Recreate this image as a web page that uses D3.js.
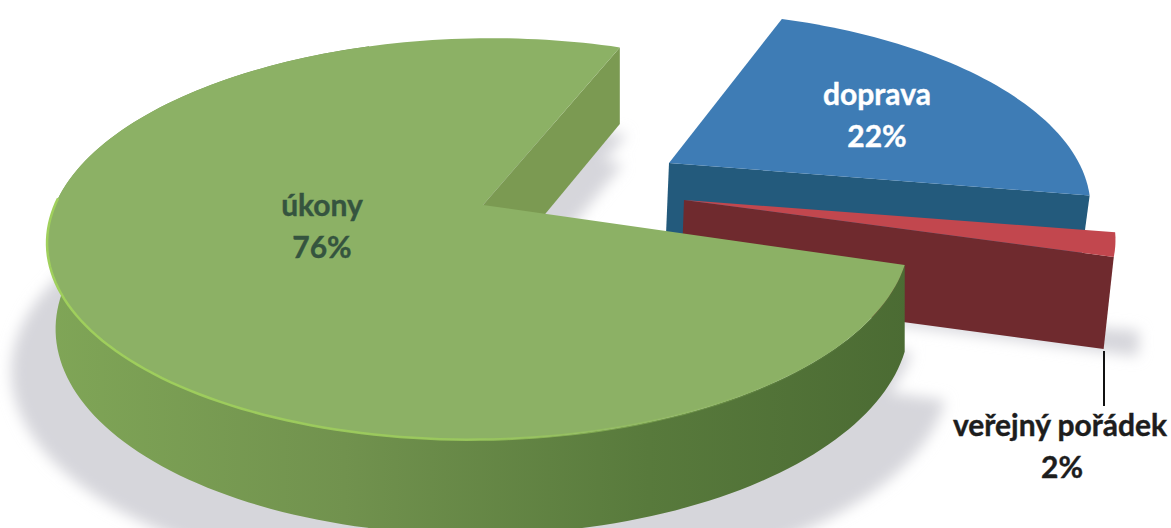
<!DOCTYPE html>
<html>
<head>
<meta charset="utf-8">
<script src="https://cdn.jsdelivr.net/npm/d3@7/dist/d3.min.js"></script>
<style>
  html, body { margin: 0; padding: 0; background: #fff; }
  text { font-family: Lato, "Open Sans", sans-serif; font-weight: 700; }
</style>
</head>
<body>
<div id="chart"></div>
<script>
const categories = ['úkony', 'doprava', 'veřejný pořádek'];
const shares = [76, 22, 2];

const width = 1171;
const height = 528;
const toRad = Math.PI / 180;

// every slice has its own plane because the pie is exploded
const planes = {
  'úkony': { cx: 483, cy: 205, rx: 425, ry: 195, tilt: 0.169, thick: 84, grow: 0.047, bend: 3, skew: -10, vanish: 900, lean: 0.01, cutLean: 0 },
  'doprava': { cx: 669, cy: 163, rx: 410, ry: 184, tilt: 0.2086, thick: 72, grow: 0, bend: 0, skew: 10, vanish: 480, lean: 0.016, cutLean: 0.016 },
  'veřejný pořádek': { cx: 684, cy: 200, rx: 422, ry: 183, tilt: 0.2086, thick: 92, grow: 0, bend: 0, skew: 0, vanish: 480, lean: 0.016, cutLean: 0.016 },
};

const topColor = d3.scaleOrdinal(categories, ['#8cb165', '#3e7cb5', '#c2474e']);
const cutColor = d3.scaleOrdinal(categories, ['#7b9a52', '#235a7c', '#6f2a2e']);

const svg = d3.select('#chart').append('svg')
  .attr('width', width)
  .attr('height', height)
  .style('display', 'block');

const defs = svg.append('defs');
defs.append('filter').attr('id', 'soft')
  .attr('x', '-10%').attr('y', '-10%').attr('width', '120%').attr('height', '120%')
  .append('feGaussianBlur').attr('stdDeviation', 7);

function gradient(id, stops) {
  const g = defs.append('linearGradient').attr('id', id)
    .attr('gradientUnits', 'userSpaceOnUse')
    .attr('x1', 40).attr('x2', 910).attr('y1', 0).attr('y2', 0);
  stops.forEach(([offset, color, opacity]) => {
    g.append('stop').attr('offset', offset).attr('stop-color', color).attr('stop-opacity', opacity ?? 1);
  });
}
gradient('greenWall', [[0, '#80a657'], [0.35, '#71924e'], [0.7, '#587a3c'], [1, '#4b6b33']]);
gradient('rimLight', [[0, '#a0d05c'], [0.5, '#9bca5c', 0.9], [0.85, '#95c060', 0.15], [1, '#95c060', 0]]);

const pie = d3.pie().sort(null).startAngle(107 * toRad).endAngle(467 * toRad);
const slices = pie(shares).map((d, i) => ({ ...d, name: categories[i] }));

function project(plane, angle) {
  const u = Math.sin(angle);
  const v = -Math.cos(angle);
  const w = 1 - plane.tilt * v;
  return [
    plane.cx + (plane.rx * u + plane.skew * v) / w - plane.bend * u * u,
    plane.cy + plane.ry * v / w,
  ];
}

function drop(plane, p, lean = plane.lean) {
  return [
    p[0] + (plane.vanish - p[0]) * lean,
    p[1] + plane.thick + plane.grow * (p[1] - plane.cy),
  ];
}

function rim(plane, a0, a1) {
  const n = Math.max(2, Math.ceil(Math.abs(a1 - a0) / (toRad * 1.5)));
  return d3.range(n + 1).map(i => project(plane, a0 + (a1 - a0) * i / n));
}

const line = d3.line();
const closed = pts => line(pts) + 'Z';

function wedge(plane, d) {
  return closed([[plane.cx, plane.cy], ...rim(plane, d.startAngle, d.endAngle)]);
}

// shadow on the floor
const shadow = svg.append('g').attr('filter', 'url(#soft)').attr('fill', '#d6d6db');
const shadowPlanes = [
  [0, { ...planes['úkony'], rx: 462, ry: 212, cy: 335, skew: 0 }],
  [0, { ...planes['úkony'], cy: 292, cx: 490 }],
  [2, { ...planes['veřejný pořádek'], cy: 297, rx: 445, ry: 190 }],
];
shadowPlanes.forEach(([i, plane]) => {
  shadow.append('path').attr('d', wedge(plane, slices[i]));
});

// back to front: doprava, veřejný pořádek, úkony
[slices[1], slices[2], slices[0]].forEach(d => {
  const plane = planes[d.name];
  const g = svg.append('g');
  const centre = [plane.cx, plane.cy];
  const corner = project(plane, d.endAngle);

  // outer wall
  if (d.name === 'úkony') {
    const edge = rim(plane, d.startAngle, d.endAngle - 40 * toRad);
    g.append('path')
      .attr('d', closed([...edge, ...edge.map(p => drop(plane, p)).reverse()]))
      .attr('fill', 'url(#greenWall)');
  }

  // cut face that looks at the viewer
  g.append('path')
    .attr('d', closed([centre, corner, drop(plane, corner, plane.cutLean), drop(plane, centre, plane.cutLean)]))
    .attr('fill', cutColor(d.name));

  g.append('path')
    .attr('d', wedge(plane, d))
    .attr('fill', topColor(d.name));

  if (d.name === 'úkony') {
    g.append('path')
      .attr('d', line(rim(plane, d.startAngle, 272 * toRad)))
      .attr('fill', 'none')
      .attr('stroke', 'url(#rimLight)')
      .attr('stroke-width', 2.5);
  }
});

// labels
const labelSpots = {
  'úkony': { x: 322, y: 216, fill: '#35543f' },
  'doprava': { x: 877, y: 105, fill: '#ffffff' },
  'veřejný pořádek': { x: 1060, y: 436, fill: '#1d1d1d' },
};

svg.append('line')
  .attr('x1', 1104).attr('y1', 351)
  .attr('x2', 1104).attr('y2', 406)
  .attr('stroke', '#111')
  .attr('stroke-width', 2);

slices.forEach((d, i) => {
  const spot = labelSpots[d.name];
  const label = svg.append('text')
    .attr('text-anchor', 'middle')
    .attr('font-size', 30)
    .attr('fill', spot.fill)
    .attr('stroke', spot.fill)
    .attr('stroke-width', 0.4);
  label.append('tspan').attr('x', spot.x).attr('y', spot.y).text(d.name);
  label.append('tspan').attr('x', spot.x + (i === 2 ? 2 : 0)).attr('y', spot.y + 42).text(shares[i] + '%');
});
</script>
</body>
</html>
